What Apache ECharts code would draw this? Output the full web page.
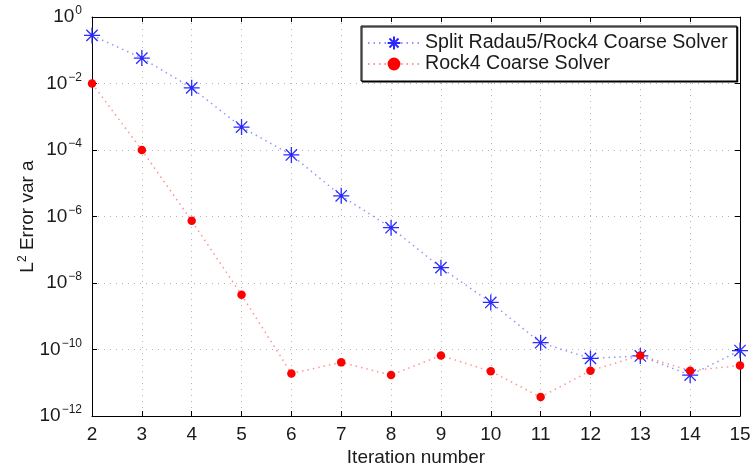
<!DOCTYPE html>
<html>
<head>
<meta charset="utf-8">
<script src="https://cdn.jsdelivr.net/npm/echarts@6/dist/echarts.min.js"></script>
<style>
html,body{margin:0;padding:0;background:#fff;}
#chart{width:754px;height:472px;}
</style>
</head>
<body>
<div id="chart"></div>
<script>
// Data
const iterations = [2, 3, 4, 5, 6, 7, 8, 9, 10, 11, 12, 13, 14, 15];
const splitRadauRock4 = [0.28, 5.8e-2, 7.4e-3, 4.9e-4, 7.1e-5, 4.2e-6, 4.6e-7, 2.9e-8, 2.6e-9, 1.6e-10, 5.4e-11, 6.4e-11, 1.7e-11, 9.3e-11];
const rock4 = [1.0e-2, 1.0e-4, 7.4e-7, 4.4e-9, 1.9e-11, 4.1e-11, 1.7e-11, 6.6e-11, 2.2e-11, 3.7e-12, 2.3e-11, 6.6e-11, 2.3e-11, 3.3e-11];
const seriesNames = ['Split Radau5/Rock4 Coarse Solver', 'Rock4 Coarse Solver'];
const xAxisTitle = 'Iteration number';
const yMin = 1e-12, yMax = 1;

const FONT = 'Liberation Sans, Arial, Helvetica, sans-serif';
const TXT = '#1a1a1a';
const starPath = 'path://M0,-10L0,10M-10,0L10,0M-7.07,-7.07L7.07,7.07M-7.07,7.07L7.07,-7.07';

function pairs(ys) { return iterations.map((x, i) => [x, ys[i]]); }
function expLabel(v) {
  const e = Math.round(Math.log10(v));
  return '{b|10}{s|' + (e < 0 ? '\u2212' + (-e) : String(e)) + '}';
}

const chart = echarts.init(document.getElementById('chart'), null, {renderer: 'canvas'});
const gridLine = {show: true, lineStyle: {color: '#b4b4b4', type: [1, 5], width: 1}};

chart.setOption({
  animation: false,
  backgroundColor: '#fff',
  textStyle: {fontFamily: FONT},
  grid: {left: 92, right: 14, top: 17, bottom: 54, containLabel: false},
  legend: {
    left: 361, top: 26, orient: 'vertical',
    backgroundColor: '#fff', borderColor: '#000', borderWidth: 1,
    shadowColor: '#000', shadowOffsetX: 1, shadowOffsetY: 1, shadowBlur: 0,
    padding: [7, 9, 7, 6], itemGap: 1, itemWidth: 52, itemHeight: 16,
    textStyle: {fontFamily: FONT, fontSize: 19.6, color: TXT, padding: [0, 0, 0, 0]},
    data: seriesNames
  },
  xAxis: [{
    type: 'value', min: 2, max: 15, interval: 1, position: 'bottom',
    name: xAxisTitle, nameLocation: 'middle', nameGap: 32, nameMoveOverlap: false,
    nameTextStyle: {fontFamily: FONT, fontSize: 19, color: TXT},
    axisLine: {show: true, onZero: false, lineStyle: {color: '#000', width: 1}},
    axisTick: {show: true, inside: true, length: 5, lineStyle: {color: '#000'}},
    axisLabel: {fontFamily: FONT, fontSize: 19, color: TXT, margin: 9},
    splitLine: gridLine
  }, {
    type: 'value', min: 2, max: 15, interval: 1, position: 'top',
    axisLine: {show: true, onZero: false, lineStyle: {color: '#000', width: 1}},
    axisTick: {show: true, inside: true, length: 5, lineStyle: {color: '#000'}},
    axisLabel: {show: false}, splitLine: {show: false}
  }],
  yAxis: [{
    type: 'log', logBase: 10, min: yMin, max: yMax, interval: 2, position: 'left',
    name: '{b|L}{s|2}{b| Error var a}', nameLocation: 'middle', nameGap: 53, nameRotate: 90,
    nameMoveOverlap: false,
    nameTextStyle: {
      rich: {
        b: {fontFamily: FONT, fontSize: 19, color: TXT},
        s: {fontFamily: FONT, fontSize: 12, color: TXT, padding: [0, 0, 10, 0]}
      }
    },
    axisLine: {show: true, onZero: false, lineStyle: {color: '#000', width: 1}},
    axisTick: {show: true, inside: true, length: 5, lineStyle: {color: '#000'}},
    axisLabel: {
      margin: 10,
      formatter: expLabel,
      rich: {
        b: {fontFamily: FONT, fontSize: 19, color: TXT},
        s: {fontFamily: FONT, fontSize: 12, color: TXT, padding: [0, 0, 12, 1]}
      }
    },
    splitLine: gridLine
  }, {
    type: 'log', logBase: 10, min: yMin, max: yMax, interval: 2, position: 'right',
    axisLine: {show: true, onZero: false, lineStyle: {color: '#000', width: 1}},
    axisTick: {show: true, inside: true, length: 5, lineStyle: {color: '#000'}},
    axisLabel: {show: false}, splitLine: {show: false}
  }],
  series: [{
    name: seriesNames[0], type: 'line', xAxisIndex: 0, yAxisIndex: 0,
    data: pairs(splitRadauRock4),
    symbol: starPath, symbolSize: 16,
    itemStyle: {color: '#2a2aff', borderColor: '#2a2aff', borderWidth: 1.3},
    lineStyle: {color: 'rgba(60,60,255,0.55)', width: 1.5, type: [1.5, 4]},
    z: 3
  }, {
    name: seriesNames[1], type: 'line', xAxisIndex: 0, yAxisIndex: 0,
    data: pairs(rock4),
    symbol: 'circle', symbolSize: 8.5,
    itemStyle: {color: '#ff0000', borderWidth: 0},
    lineStyle: {color: 'rgba(255,60,60,0.55)', width: 1.5, type: [1.5, 4]},
    z: 4
  }]
});
</script>
</body>
</html>
